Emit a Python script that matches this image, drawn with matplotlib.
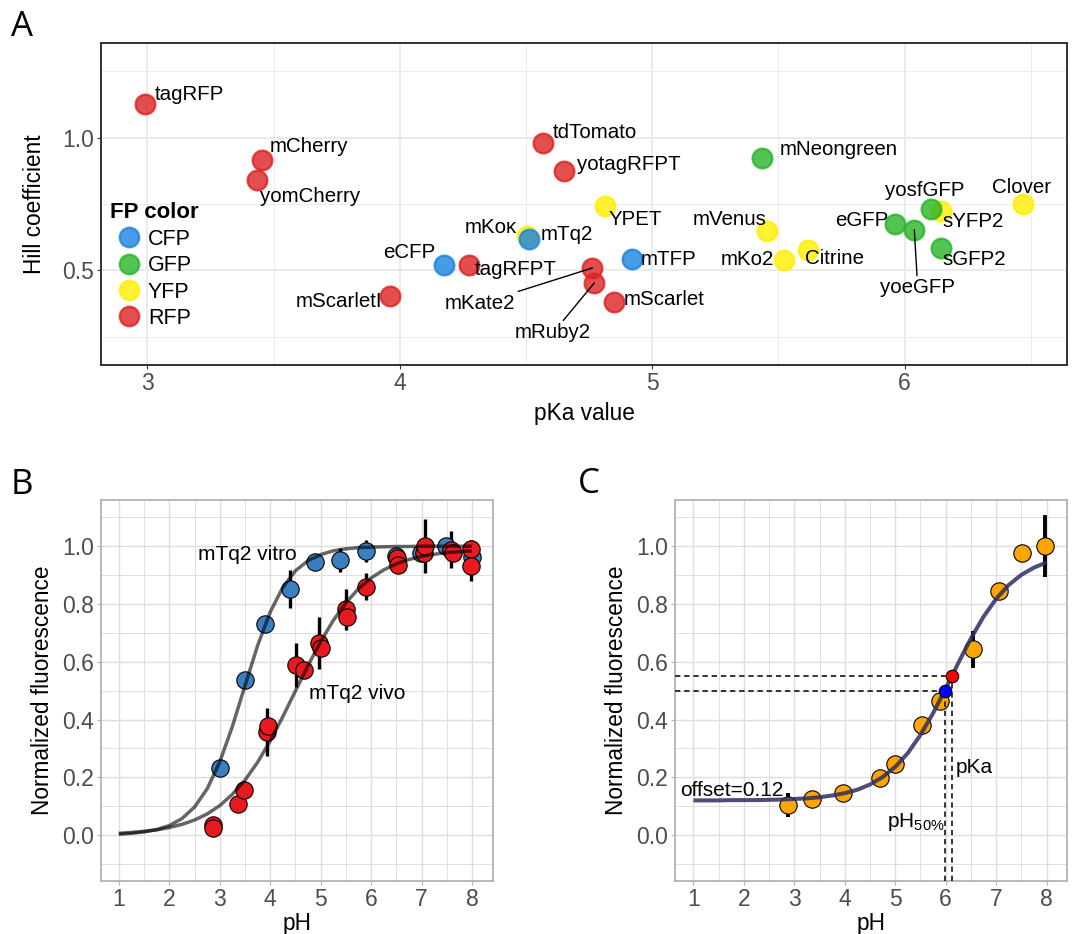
import numpy as np
import matplotlib.pyplot as plt
from matplotlib.lines import Line2D
from matplotlib.ticker import MultipleLocator

plt.rcParams['font.family'] = ['Liberation Sans', 'DejaVu Sans']
plt.rcParams['mathtext.fontset'] = 'custom'
plt.rcParams['mathtext.rm'] = 'Liberation Sans'

# ---- panel A: pKa vs Hill coefficient ----
fp_names = ['Clover', 'sYFP2', 'Citrine', 'mKo2', 'mVenus', 'YPET', 'mKoκ',
            'eCFP', 'mTq2', 'mTFP',
            'mNeongreen', 'eGFP', 'yoeGFP', 'yosfGFP', 'sGFP2',
            'tagRFP', 'mCherry', 'yomCherry', 'mScarletI', 'tagRFPT', 'tdTomato',
            'yotagRFPT', 'mKate2', 'mRuby2', 'mScarlet']
fp_pka = [6.469, 6.142, 5.617, 5.522, 5.453, 4.812, 4.505,
          4.173, 4.512, 4.918,
          5.436, 5.961, 6.038, 6.104, 6.142,
          2.990, 3.454, 3.436, 3.959, 4.273, 4.568,
          4.652, 4.763, 4.770, 4.850]
fp_hill = [0.751, 0.722, 0.578, 0.540, 0.648, 0.743, 0.628,
           0.521, 0.618, 0.543,
           0.922, 0.675, 0.653, 0.732, 0.584,
           1.127, 0.916, 0.841, 0.402, 0.521, 0.979,
           0.875, 0.509, 0.452, 0.380]
fp_group = ['YFP'] * 7 + ['CFP'] * 3 + ['GFP'] * 5 + ['RFP'] * 10
legend_order = ['CFP', 'GFP', 'YFP', 'RFP']
group_colors = {'CFP': '#1A83E0', 'GFP': '#28B428', 'YFP': '#FFEF00', 'RFP': '#DD2222'}

# label placement (offset in points, alignment, leader line)
lab_dx = [-1.3, 1.3, -2.5, -7.1, 0, 2.5, -7.4,
          -6.2, 8.1, 6.8,
          12.4, -4.3, 2.5, -4.5, 1.3,
          7.4, 5.7, 1.7, -5, 4.5, 7.1,
          8.9, -55.5, -29.6, 6.6]
lab_dy = [12, -7.2, -6.7, 0, 8.1, -10, 6.7,
          8.9, 3.1, -0.5,
          6.5, 2.4, -41.9, 12.9, -7.9,
          6.5, 10, -12, -3.6, -3.1, 7.9,
          4.8, -25.6, -35.8, 1.9]
lab_ha = ['center', 'left', 'left', 'right', 'right', 'left', 'right',
          'right', 'left', 'left',
          'left', 'right', 'center', 'center', 'left',
          'left', 'left', 'left', 'right', 'left', 'left',
          'left', 'right', 'center', 'left']
lab_line = ['yoeGFP', 'mKate2', 'mRuby2']

# ---- panel B: mTq2 in vitro / in vivo ----
vitro_ph = [3.00, 3.50, 3.89, 4.40, 4.89, 5.39, 5.90, 6.50, 6.98, 7.49, 8.00]
vitro_fl = [0.231, 0.538, 0.732, 0.852, 0.945, 0.952, 0.983, 0.965, 0.977, 1.002, 0.963]
vitro_err = [0, 0, 0, 0.066, 0, 0.042, 0.037, 0.03, 0, 0, 0]
vivo_ph = [2.86, 2.87, 3.37, 3.49, 3.94, 3.96, 4.52, 4.67, 4.96, 5.00, 5.51, 5.52,
           5.90, 6.52, 6.54, 7.04, 7.06, 7.58, 7.62, 7.97, 7.98]
vivo_fl = [0.035, 0.023, 0.106, 0.156, 0.358, 0.376, 0.589, 0.571, 0.664, 0.646, 0.781, 0.756,
           0.860, 0.958, 0.935, 0.977, 1.002, 0.988, 0.977, 0.990, 0.930]
vivo_err = [0, 0, 0, 0.03, 0.083, 0, 0.076, 0, 0.09, 0, 0.07, 0,
            0.047, 0, 0, 0, 0.093, 0.064, 0, 0.03, 0.05]
curve_ph = [1.00, 1.25, 1.50, 1.75, 2.00, 2.25, 2.50, 2.75, 3.00, 3.25, 3.50, 3.75, 4.00, 4.25,
            4.50, 4.75, 5.00, 5.25, 5.50, 5.75, 6.00, 6.25, 6.50, 6.75, 7.00, 7.25, 7.50, 7.75, 8.00]
vitro_fit = [0.003, 0.006, 0.011, 0.019, 0.033, 0.057, 0.097, 0.160, 0.253, 0.376, 0.517, 0.656,
             0.772, 0.858, 0.915, 0.950, 0.971, 0.984, 0.991, 0.995, 0.997, 0.998, 0.999, 0.999,
             1.0, 1.0, 1.0, 1.0, 1.0]
vivo_fit = [0.006, 0.009, 0.013, 0.018, 0.026, 0.037, 0.052, 0.073, 0.102, 0.141, 0.190, 0.252,
            0.326, 0.410, 0.499, 0.587, 0.670, 0.743, 0.804, 0.853, 0.890, 0.918, 0.939, 0.954,
            0.965, 0.972, 0.978, 0.981, 0.984]

# ---- panel C: single sensor with offset ----
c_ph = [2.87, 3.35, 3.97, 4.69, 4.99, 5.53, 5.89, 6.55, 7.05, 7.51, 7.97]
c_fl = [0.104, 0.124, 0.145, 0.197, 0.246, 0.381, 0.465, 0.643, 0.844, 0.975, 1.0]
c_err = [0.04, 0, 0, 0, 0, 0.02, 0, 0.064, 0.02, 0, 0.108]
c_fit = [0.120, 0.120, 0.120, 0.121, 0.121, 0.121, 0.122, 0.123, 0.125, 0.127, 0.131, 0.137,
         0.145, 0.157, 0.175, 0.201, 0.236, 0.284, 0.347, 0.422, 0.507, 0.596, 0.681, 0.756,
         0.818, 0.866, 0.901, 0.926, 0.944]
ph50, fl50 = 5.99, 0.50
pka, fl_pka = 6.12, 0.552

W, H = 1072, 934
fig = plt.figure(figsize=(W / 100, H / 100), dpi=100)
axA = fig.add_axes([101 / W, 1 - 365 / H, 966 / W, 322 / H])
axB = fig.add_axes([100.7 / W, 1 - 880.7 / H, 392 / W, 380.7 / H])
axC = fig.add_axes([675.3 / W, 1 - 880.7 / H, 392 / W, 380.7 / H])

TICK = 16.5
TITLE = 16.3

# theme_bw look for A
axA.set_xlim(2.816, 6.643)
axA.set_ylim(0.143, 1.357)
axA.xaxis.set_major_locator(MultipleLocator(1))
axA.xaxis.set_minor_locator(MultipleLocator(0.5))
axA.yaxis.set_major_locator(MultipleLocator(0.5))
axA.yaxis.set_minor_locator(MultipleLocator(0.25))
axA.grid(which='major', color='#EBEBEB', lw=1.4)
axA.grid(which='minor', color='#EBEBEB', lw=0.7)
axA.set_axisbelow(True)
for s in axA.spines.values():
    s.set_color('#333333')
    s.set_linewidth(1.4)
axA.tick_params(which='major', color='#333333', length=3, width=0.8,
                labelsize=TICK, labelcolor='#4D4D4D', pad=2)
axA.tick_params(which='minor', length=0)
axA.yaxis.set_major_formatter(plt.FormatStrFormatter('%.1f'))
axA.set_xlabel('pKa value', fontsize=TITLE, labelpad=5)
axA.set_ylabel('Hill coefficient', fontsize=TITLE, labelpad=12)

for g in ['YFP', 'CFP', 'GFP', 'RFP']:
    idx = [i for i, k in enumerate(fp_group) if k == g]
    axA.scatter([fp_pka[i] for i in idx], [fp_hill[i] for i in idx], s=200,
                facecolor=group_colors[g], edgecolor=group_colors[g], alpha=0.8,
                linewidth=1.7, zorder=3)

for i, name in enumerate(fp_names):
    kw = {}
    if name in lab_line:
        kw['arrowprops'] = dict(arrowstyle='-', color='black', lw=1.0,
                                shrinkA=0, shrinkB=0)
    axA.annotate(name, (fp_pka[i], fp_hill[i]), xytext=(lab_dx[i], lab_dy[i]),
                 textcoords='offset points', ha=lab_ha[i], va='center',
                 fontsize=14.8, zorder=5, **kw)

handles = [Line2D([], [], marker='o', ls='', markersize=14,
                  markerfacecolor=group_colors[g], markeredgecolor=group_colors[g],
                  alpha=0.8, mew=1.7, label=g) for g in legend_order]
leg = axA.legend(handles=handles, title='FP color', loc='upper left',
                 bbox_to_anchor=(0.003, 0.525), frameon=False, fontsize=15.5,
                 title_fontproperties={'weight': 'bold', 'size': 16},
                 handlelength=1.75, handletextpad=0.0, labelspacing=0.25,
                 borderpad=0.3, borderaxespad=0, alignment='left')


def light_theme(ax):
    ax.set_xlim(0.64, 8.41)
    ax.set_ylim(-0.158, 1.16)
    ax.xaxis.set_major_locator(MultipleLocator(1))
    ax.xaxis.set_minor_locator(MultipleLocator(0.5))
    ax.yaxis.set_major_locator(MultipleLocator(0.2))
    ax.yaxis.set_minor_locator(MultipleLocator(0.1))
    ax.set_xticks(range(1, 9))
    ax.set_yticks([0, 0.2, 0.4, 0.6, 0.8, 1.0])
    ax.yaxis.set_major_formatter(plt.FormatStrFormatter('%.1f'))
    ax.grid(which='major', color='#DEDEDE', lw=1.0)
    ax.grid(which='minor', color='#DEDEDE', lw=0.7)
    ax.set_axisbelow(True)
    for s in ax.spines.values():
        s.set_color('#B3B3B3')
        s.set_linewidth(1.3)
    ax.tick_params(which='major', color='#B3B3B3', length=3, width=0.8,
                   labelsize=TICK, labelcolor='#4D4D4D', pad=2)
    ax.tick_params(which='minor', length=0)
    ax.set_xlabel('pH', fontsize=TITLE, labelpad=1)
    ax.set_ylabel('Normalized fluorescence', fontsize=TITLE, labelpad=6)


def err_bars(ax, xs, ys, es, lw=2.4):
    keep = [i for i, e in enumerate(es) if e > 0]
    ax.vlines([xs[i] for i in keep], [ys[i] - es[i] for i in keep],
              [ys[i] + es[i] for i in keep], color='black', lw=lw, zorder=2)


# ---- B ----
light_theme(axB)
err_bars(axB, vitro_ph, vitro_fl, vitro_err)
err_bars(axB, vivo_ph, vivo_fl, vivo_err)
axB.plot(vitro_ph, vitro_fl, 'o', ms=12.5, mfc='#3A7FC2', mec='black', mew=0.8, zorder=3)
axB.plot(vivo_ph, vivo_fl, 'o', ms=12.5, mfc='#E8191F', mec='black', mew=0.8, zorder=3.1)
axB.plot(curve_ph, vitro_fit, color='black', alpha=0.6, lw=2.5, zorder=4,
         solid_capstyle='butt')
axB.plot(curve_ph, vivo_fit, color='black', alpha=0.6, lw=2.5, zorder=4,
         solid_capstyle='butt')
axB.text(3.54, 0.971, 'mTq2 vitro', fontsize=15, ha='center', va='center')
axB.text(5.73, 0.491, 'mTq2 vivo', fontsize=15, ha='center', va='center')

# ---- C ----
light_theme(axC)
err_bars(axC, c_ph, c_fl, c_err, lw=2.8)
axC.plot(c_ph, c_fl, 'o', ms=12.5, mfc='#FFA500', mec='black', mew=0.8, zorder=3)
axC.plot(curve_ph, c_fit, color='#2E2E63', alpha=0.85, lw=2.9, zorder=4,
         solid_capstyle='butt')
x0, x1 = axC.get_xlim()
y0, y1 = axC.get_ylim()
dash = dict(color='black', lw=1.1, ls=(0, (3.5, 2.5)), zorder=4.5)
axC.plot([x0, ph50], [fl50, fl50], **dash)
axC.plot([x0, pka], [fl_pka, fl_pka], **dash)
axC.plot([ph50, ph50], [y0, fl50], **dash)
axC.plot([pka, pka], [y0, fl_pka], **dash)
axC.plot([ph50], [fl50], 'o', ms=9, mfc='#0000FF', mec='black', mew=0.8, zorder=5)
axC.plot([pka], [fl_pka], 'o', ms=9, mfc='#FF0000', mec='black', mew=0.8, zorder=5)
axC.text(0.726, 0.156, 'offset=0.12', fontsize=15, ha='left', va='center')
axC.text(6.2, 0.235, 'pKa', fontsize=15, ha='left', va='center')
axC.text(5.97, 0.046, r'pH$_{\mathrm{50\%}}$', fontsize=15, ha='right', va='center')

for lab, x, y in [('A', 11, 10), ('B', 11, 468), ('C', 578, 467)]:
    fig.text(x / W, 1 - y / H, lab, fontsize=25, family='Open Sans',
             ha='left', va='top')

fig.savefig('out.png', dpi=100)
